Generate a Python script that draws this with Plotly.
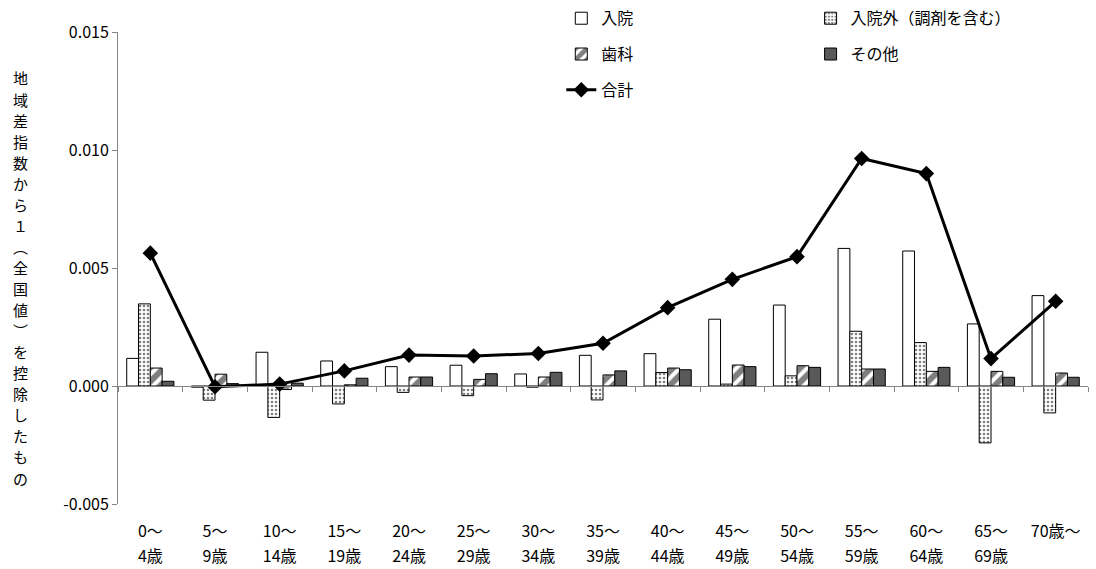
import plotly.graph_objects as go

categories = ["0～4歳", "5～9歳", "10～14歳", "15～19歳", "20～24歳",
              "25～29歳", "30～34歳", "35～39歳", "40～44歳", "45～49歳",
              "50～54歳", "55～59歳", "60～64歳", "65～69歳", "70歳～"]
labels_line1 = ["0～", "5～", "10～", "15～", "20～", "25～", "30～", "35～", "40～",
                "45～", "50～", "55～", "60～", "65～", "70歳～"]
labels_line2 = ["4歳", "9歳", "14歳", "19歳", "24歳", "29歳", "34歳", "39歳", "44歳",
                "49歳", "54歳", "59歳", "64歳", "69歳", ""]

y_tickvals = [-0.005, 0.0, 0.005, 0.010, 0.015]
y_ticktext = ["-0.005", "0.000", "0.005", "0.010", "0.015"]

nyuin = [0.00117, -0.00005, 0.00143, 0.00106, 0.00082, 0.00088, 0.00051, 0.00130,
         0.00137, 0.00283, 0.00343, 0.00583, 0.00572, 0.00263, 0.00383]
nyuingai = [0.00348, -0.00060, -0.00133, -0.00076, -0.00027, -0.00041, -0.00005, -0.00059,
            0.00057, 0.00008, 0.00043, 0.00232, 0.00184, -0.00241, -0.00114]
shika = [0.00076, 0.00050, -0.00015, 0.00005, 0.00038, 0.00028, 0.00038, 0.00047,
         0.00076, 0.00089, 0.00086, 0.00072, 0.00062, 0.00062, 0.00055]
sonota = [0.00020, 0.00010, 0.00012, 0.00033, 0.00038, 0.00052, 0.00058, 0.00064,
          0.00069, 0.00082, 0.00079, 0.00072, 0.00079, 0.00037, 0.00037]
goukei = [0.00563, -0.00003, 0.00008, 0.00064, 0.00131, 0.00127, 0.00138, 0.00181,
          0.00332, 0.00452, 0.00548, 0.00964, 0.00900, 0.00116, 0.00359]

y_title = "地域差指数から１︵全国値︶を控除したもの"

FONT = "Noto Sans CJK JP, Noto Sans, sans-serif"
AXIS_GRAY = "#868686"

fig = go.Figure()

fig.add_trace(go.Bar(
    name="入院", x=categories, y=nyuin,
    marker=dict(color="white", line=dict(color="black", width=1)),
    legend="legend", legendgroup="a"))
fig.add_trace(go.Bar(
    name="入院外（調剤を含む）", x=categories, y=nyuingai,
    marker=dict(color="white", line=dict(color="black", width=1),
                pattern=dict(shape=".", fgcolor="black", bgcolor="white", size=4, solidity=0.35)),
    legend="legend2", legendgroup="b"))
fig.add_trace(go.Bar(
    name="歯科", x=categories, y=shika,
    marker=dict(color="white", line=dict(color="black", width=1),
                pattern=dict(shape="/", fgcolor="black", bgcolor="white", size=10, solidity=0.6)),
    legend="legend", legendgroup="c"))
fig.add_trace(go.Bar(
    name="その他", x=categories, y=sonota,
    marker=dict(color="#595959", line=dict(color="black", width=1)),
    legend="legend2", legendgroup="d"))
fig.add_trace(go.Scatter(
    name="合計", x=categories, y=goukei, mode="lines+markers",
    line=dict(color="black", width=3),
    marker=dict(symbol="diamond", size=12, color="black"),
    legend="legend", legendgroup="e"))

# helper traces for the zero axis (boundary ticks) and the second label line
fig.add_trace(go.Scatter(x=categories, y=[None] * len(categories), xaxis="x2",
                         showlegend=False, hoverinfo="skip"))
fig.add_trace(go.Scatter(x=categories, y=[None] * len(categories), xaxis="x3",
                         showlegend=False, hoverinfo="skip"))

cat_axis = dict(type="category", categoryorder="array", categoryarray=categories,
                range=[-0.5, 14.5], showgrid=False, zeroline=False)

fig.update_layout(
    width=1096, height=569,
    paper_bgcolor="white", plot_bgcolor="white",
    margin=dict(l=118, r=8, t=32, b=65, autoexpand=False),
    font=dict(family=FONT, size=16, color="black"),
    barmode="group", bargap=0.27, bargroupgap=0,
    showlegend=True,
    xaxis=dict(**cat_axis, showline=False, ticks="",
               tickvals=categories, ticktext=labels_line1,
               tickfont=dict(size=16), ticklabelstandoff=16),
    xaxis3=dict(**cat_axis, overlaying="x", anchor="y", side="bottom",
                showline=False, ticks="",
                tickvals=categories, ticktext=labels_line2,
                tickfont=dict(size=16), ticklabelstandoff=41),
    xaxis2=dict(**cat_axis, overlaying="x", anchor="free", position=0.25,
                side="bottom", showline=True, linecolor=AXIS_GRAY, linewidth=1,
                ticks="outside", tickson="boundaries", ticklen=5, tickcolor=AXIS_GRAY,
                showticklabels=False),
    yaxis=dict(range=[-0.005, 0.015], tickvals=y_tickvals, ticktext=y_ticktext,
               showline=True, linecolor=AXIS_GRAY, linewidth=1,
               ticks="outside", ticklen=5, tickcolor=AXIS_GRAY,
               showgrid=False, zeroline=False, tickfont=dict(size=16)),
    legend=dict(x=0.457, y=1.065, xanchor="left", yanchor="top", orientation="v",
                tracegroupgap=12, bgcolor="rgba(0,0,0,0)", font=dict(size=16)),
    legend2=dict(x=0.714, y=1.065, xanchor="left", yanchor="top", orientation="v",
                 tracegroupgap=12, bgcolor="rgba(0,0,0,0)", font=dict(size=16)),
)

# vertical (upright) y-axis title, one character per position
n = len(y_title)
top_px, bottom_px = 78, 478
plot_top, plot_h = 32, 472
for i, ch in enumerate(y_title):
    ypx = top_px + (bottom_px - top_px) * i / (n - 1)
    fig.add_annotation(text=ch, xref="paper", yref="paper",
                       x=(20 - 118) / 970, y=1 - (ypx - plot_top) / plot_h,
                       xanchor="center", yanchor="middle", showarrow=False,
                       font=dict(size=15, family=FONT))

fig.write_html("out.html", config={"displayModeBar": False},
               post_script="document.body.style.margin='0';")
